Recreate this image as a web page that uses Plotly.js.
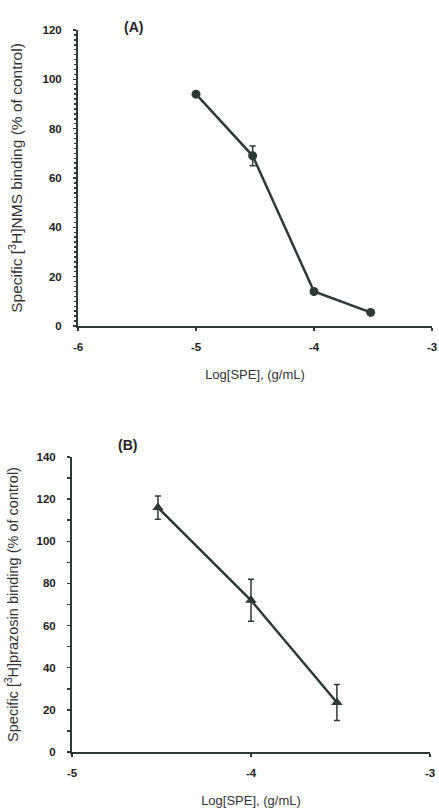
<!DOCTYPE html>
<html><head><meta charset="utf-8">
<script src="https://cdn.plot.ly/plotly-3.0.1.min.js"></script>
<style>html,body{margin:0;padding:0;background:#fff}#c{width:439px;height:808px}</style>
</head><body><div id="c"></div>
<script>
// Panel A: [3H]NMS binding
const logSpeA = [-5, -4.52, -4, -3.52];
const bindA = [94, 69, 14, 5.5];
const errA = [0, 4, 0, 0];
// Panel B: [3H]prazosin binding
const logSpeB = [-4.52, -4, -3.52];
const bindB = [116, 72, 23.5];
const errB = [5.5, 10, 8.5];
// tick labels
const xTicksA = [-6, -5, -4, -3];
const xLabelsA = ['-6', '-5', '-4', '-3'];
const xTicksB = [-5, -4, -3];
const xLabelsB = ['-5', '-4', '-3'];

const ink = '#2e3a37';
const W = 439, H = 808;
const fam = 'Liberation Sans, Arial, sans-serif';
const tickFont = {family: fam, size: 11.5, color: '#222', weight: 'bold'};

const traces = [
  {x: logSpeA, y: bindA, xaxis: 'x', yaxis: 'y', mode: 'lines+markers',
   line: {color: ink, width: 2.5}, marker: {symbol: 'circle', size: 9, color: ink},
   error_y: {type: 'data', array: errA, visible: true, color: ink, thickness: 1.5, width: 3}},
  {x: logSpeB, y: bindB, xaxis: 'x2', yaxis: 'y2', mode: 'lines+markers',
   line: {color: ink, width: 2.5}, marker: {symbol: 'triangle-up', size: 10, color: ink},
   error_y: {type: 'data', array: errB, visible: true, color: ink, thickness: 1.5, width: 3}}
];

function ax(extra) {
  return Object.assign({
    showline: true, linecolor: ink, linewidth: 2, showgrid: false, zeroline: false,
    ticks: 'outside', ticklen: 3, tickcolor: ink, tickwidth: 1.5, tickfont: tickFont,
    fixedrange: true
  }, extra);
}

const layout = {
  width: W, height: H, margin: {l: 0, r: 0, t: 0, b: 0},
  paper_bgcolor: '#fff', plot_bgcolor: '#fff', showlegend: false,
  xaxis: ax({domain: [78/W, 432/W], range: [-6, -3], tickvals: xTicksA, ticktext: xLabelsA, anchor: 'y',
    ticklabelstandoff: 6,
    title: {text: 'Log[SPE], (g/mL)', font: {family: fam, size: 13, color: '#333'}, standoff: 18}}),
  yaxis: ax({domain: [(H-326)/H, (H-30)/H], range: [0, 120], dtick: 20, anchor: 'x',
    ticklabelstandoff: 9,
    minor: {dtick: 2, ticks: 'outside', ticklen: 2, tickcolor: ink},
    title: {text: 'Specific [<sup>3</sup>H]NMS binding (% of control)', font: {family: fam, size: 15.5, color: '#333'}, standoff: 16}}),
  xaxis2: ax({domain: [72/W, 430/W], range: [-5, -3], tickvals: xTicksB, ticktext: xLabelsB, anchor: 'y2',
    ticklabelstandoff: 6,
    title: {text: 'Log[SPE], (g/mL)', font: {family: fam, size: 13, color: '#333'}, standoff: 20}}),
  yaxis2: ax({domain: [(H-752)/H, (H-457)/H], range: [0, 140], dtick: 20, anchor: 'x2',
    ticklabelstandoff: 9,
    minor: {dtick: 10, ticks: 'outside', ticklen: 3, tickcolor: ink},
    title: {text: 'Specific [<sup>3</sup>H]prazosin binding (% of control)', font: {family: fam, size: 14.5, color: '#333'}, standoff: 14}}),
  annotations: [
    {text: '<b>(A)</b>', x: 122/W, y: (H-17)/H, xref: 'paper', yref: 'paper', showarrow: false,
     font: {family: fam, size: 14, color: '#222'}},
    {text: '<b>(B)</b>', x: 116/W, y: (H-445)/H, xref: 'paper', yref: 'paper', showarrow: false,
     font: {family: fam, size: 14, color: '#222'}}
  ]
};

Plotly.newPlot('c', traces, layout, {staticPlot: true});
</script></body></html>
